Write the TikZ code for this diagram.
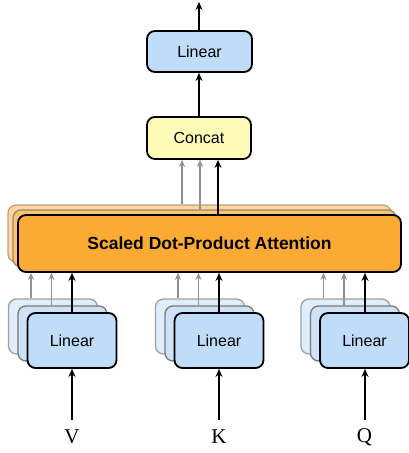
\documentclass[tikz,border=0pt]{standalone}
\usepackage{fontspec}
\setmainfont{Liberation Serif}
\setsansfont{Liberation Sans}
\usetikzlibrary{arrows.meta}
\definecolor{linblue}{RGB}{191,220,248}
\definecolor{linblueA}{RGB}{206,227,248}
\definecolor{linblueB}{RGB}{224,237,250}
\definecolor{concatyel}{RGB}{254,251,184}
\definecolor{attnor}{RGB}{251,170,51}
\definecolor{attnorA}{RGB}{250,196,120}
\definecolor{attnorB}{RGB}{253,214,160}
\definecolor{grayline}{RGB}{145,145,145}
\definecolor{grayedgeA}{RGB}{120,120,120}
\definecolor{grayedgeB}{RGB}{160,160,160}
\tikzset{
  box/.style={draw=black, line width=1.8pt, rounded corners=8pt, inner sep=0pt, font=\sffamily\fontsize{16}{19}\selectfont},
  linbox/.style={box, fill=linblue, minimum width=89pt, minimum height=55pt},
  lincopyA/.style={draw=grayedgeA, line width=1.3pt, fill=linblueA, rounded corners=8pt, minimum width=89pt, minimum height=55pt, inner sep=0pt},
  lincopyB/.style={draw=grayedgeB, line width=1.3pt, fill=linblueB, rounded corners=8pt, minimum width=89pt, minimum height=55pt, inner sep=0pt},
  attncopyA/.style={draw=grayedgeA!70!attnor, line width=1.3pt, fill=attnorA, rounded corners=8pt, minimum width=383pt, minimum height=57pt, inner sep=0pt},
  attncopyB/.style={draw=grayedgeB!70!attnor, line width=1.3pt, fill=attnorB, rounded corners=8pt, minimum width=383pt, minimum height=57pt, inner sep=0pt},
  arr/.style={-{Stealth[length=8pt,width=7pt]}, line width=2pt, black},
  garr/.style={-{Stealth[length=7pt,width=6pt]}, line width=1.3pt, grayline},
  sym/.style={font=\rmfamily\fontsize{21}{24}\selectfont, inner sep=0pt}
}
\begin{document}
\begin{tikzpicture}[x=1pt,y=-1pt]
\useasboundingbox (0,0) rectangle (409,453);

% top Linear and Concat
\node[box, fill=linblue, minimum width=105pt, minimum height=41pt] (outlin) at (199.5,51.5) {Linear};
\node[box, fill=concatyel, minimum width=104pt, minimum height=42pt] (concat) at (199,138) {Concat};
\coordinate (mid) at (199,0);
\coordinate (top) at (199,2);
\draw[arr] (outlin.north -| mid) -- (top);
\draw[arr] (concat.north -| mid) -- (outlin.south -| mid);

% attention block
\node[attncopyB] (attnB) at (199.5,233.5) {};
\node[attncopyA] (attnA) at (204.5,238.5) {};
\node[box, fill=attnor, minimum width=383pt, minimum height=57pt, font=\sffamily\bfseries\fontsize{17.5}{21}\selectfont] (attn) at (209.5,243.5) {Scaled Dot-Product Attention};

\coordinate (c1) at (182,0);
\coordinate (c2) at (200,0);
\coordinate (c3) at (218,0);
\draw[garr] (attnB.north -| c1) -- (concat.south -| c1);
\draw[garr] (attnA.north -| c2) -- (concat.south -| c2);
\draw[arr] (attn.north -| c3) -- (concat.south -| c3);

% bottom Linear groups
\foreach \n/\cx/\lab in {v/72/V, k/219/K, q/364.5/Q}{
  \node[lincopyB] (\n B) at (\cx-19,326.5) {};
  \node[lincopyA] (\n A) at (\cx-9.5,333.5) {};
  \node[linbox] (\n) at (\cx,340.5) {Linear};
  \coordinate (\n g1) at (\cx-41,0);
  \coordinate (\n g2) at (\cx-20.5,0);
  \coordinate (\n c) at ({round(\cx)},0);
  \draw[garr] (\n B.north -| \n g1) -- (attn.south -| \n g1);
  \draw[garr] (\n A.north -| \n g2) -- (attn.south -| \n g2);
  \draw[arr] (\n.north -| \n c) -- (attn.south -| \n c);
  \node[sym] (\n lab) at (\cx,437) {\lab};
  \coordinate (\n s) at ({round(\cx)},420);
  \draw[arr] (\n s) -- (\n.south -| \n c);
}
\end{tikzpicture}
\end{document}
